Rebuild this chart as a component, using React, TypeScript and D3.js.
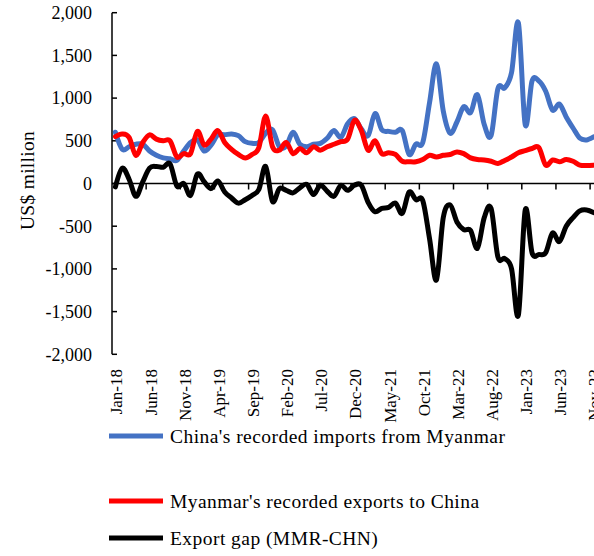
import React from "react";
import * as d3 from "d3";

// Monthly categories, Jan-18 .. Nov-23
const months: string[] = d3
  .timeMonths(new Date(2018, 0, 1), new Date(2023, 11, 1))
  .map((d) => d3.timeFormat("%b-%y")(d));

// China's recorded imports from Myanmar (US$ million)
const chinaImports: number[] = [
  600, 400, 430, 460, 460, 380, 330, 300, 290, 270,
  380, 480, 510, 380, 450, 570, 570, 580, 560, 490,
  470, 480, 590, 630, 430, 440, 600, 460, 430, 460,
  470, 530, 620, 540, 700, 760, 640, 560, 820, 630,
  610, 600, 620, 340, 460, 480, 950, 1400, 850, 590,
  720, 900, 830, 1040, 690, 560, 1110, 1120, 1300, 1880,
  690, 1200, 1200, 1080, 860, 930, 780, 650, 530, 510,
  545,
];

// Myanmar's recorded exports to China (US$ million)
const myanmarExports: number[] = [
  550, 580, 540, 330, 480, 570, 520, 500, 500, 310,
  350, 350, 610, 450, 520, 620, 480, 400, 340, 300,
  340, 420, 790, 430, 390, 480, 350, 410, 360, 430,
  390, 430, 460, 490, 520, 740, 620, 390, 500, 350,
  360, 340, 260, 255, 255, 280, 330, 310, 330, 340,
  370, 350, 300, 280, 275, 260, 235, 270, 310, 360,
  385, 410, 420, 215, 275, 255, 280, 260, 215, 210,
  215,
];

// Export gap (MMR-CHN)
const exportGap: number[] = [
  -40, 180, 50, -150, 20, 180, 200, 190, 230, -30,
  0, -140, 110, 20, -60, 30, -100, -170, -230, -190,
  -140, -70, 200, -210, -60, -80, -110, -50, -10, -130,
  -20, -90, -150, -20, -80, -20, -20, -220, -330, -290,
  -280, -230, -350, -100, -190, -200, -650, -1130, -400, -250,
  -450, -540, -550, -760, -400, -290, -860, -880, -1000, -1540,
  -310, -810, -830, -810, -580, -680, -500, -400, -320, -310,
  -340,
];

const yTicks: number[] = [-2000, -1500, -1000, -500, 0, 500, 1000, 1500, 2000];
const seriesNames: string[] = [
  "China's recorded imports from Myanmar",
  "Myanmar's recorded exports to China",
  "Export gap (MMR-CHN)",
];
const seriesColors: string[] = ["#4472C4", "#FF0000", "#000000"];

const W = 594;
const H = 556;
const FONT = "'Liberation Serif', 'Times New Roman', serif";

// thousands separator with a plain hyphen for negatives
const fmt = d3.formatLocale({
  decimal: ".",
  thousands: ",",
  grouping: [3],
  currency: ["$", ""],
  minus: "-",
}).format(",");

export default function App() {
  const x0 = 112;
  const step = 6.83;
  const x = d3
    .scaleBand<string>()
    .domain(months)
    .range([x0, x0 + step * months.length])
    .padding(0);
  const y = d3.scaleLinear().domain([-2000, 2000]).range([354.3, 12.7]);
  const cx = (i: number) => (x(months[i]) as number) + x.bandwidth() / 2;

  const line = d3
    .line<number>()
    .x((_, i) => cx(i))
    .y((v) => y(v))
    .curve(d3.curveCardinal.tension(0));

  const series = [chinaImports, myanmarExports, exportGap];
  const labelIdx = months.map((_, i) => i).filter((i) => i % 5 === 0);
  const legendY = [436, 501, 538];

  return (
    <div style={{ position: "absolute", left: 0, top: 0 }}>
      <svg width={W} height={H} style={{ display: "block", background: "#fff" }}>
        <rect width={W} height={H} fill="#fff" />
        {/* y axis */}
        <line x1={x0} x2={x0} y1={y(2000)} y2={y(-2000)} stroke="#000" strokeWidth={1.5} />
        {yTicks.map((t) => (
          <g key={t}>
            <line x1={x0} x2={x0 + 5} y1={y(t)} y2={y(t)} stroke="#000" strokeWidth={1.5} />
            <text
              x={92}
              y={y(t)}
              dy="0.35em"
              textAnchor="end"
              fontFamily={FONT}
              fontSize={18}
              fill="#000"
            >
              {fmt(t)}
            </text>
          </g>
        ))}
        <text
          transform={`translate(27,${y(0) - 3}) rotate(-90)`}
          textAnchor="middle"
          dy="0.35em"
          fontFamily={FONT}
          fontSize={19.5}
          letterSpacing={0.3}
          fill="#000"
        >
          US$ million
        </text>

        {/* x axis on zero line */}
        <line x1={x0} x2={x0 + step * months.length} y1={y(0)} y2={y(0)} stroke="#000" strokeWidth={1.5} />
        {labelIdx.map((i) => (
          <g key={months[i]}>
            {i > 0 && (
              <line
                x1={x(months[i]) as number}
                x2={x(months[i]) as number}
                y1={y(0)}
                y2={y(0) + 6}
                stroke="#000"
                strokeWidth={1.5}
              />
            )}
            <text
              transform={`translate(${cx(i) + 1},369) rotate(-90)`}
              textAnchor="end"
              dy="0.35em"
              fontFamily={FONT}
              fontSize={17}
              fill="#000"
            >
              {months[i]}
            </text>
          </g>
        ))}

        {/* series */}
        {series.map((s, k) => (
          <path
            key={k}
            d={line(s) as string}
            fill="none"
            stroke={seriesColors[k]}
            strokeWidth={5}
            strokeLinejoin="round"
            strokeLinecap="round"
          />
        ))}

        {/* legend */}
        {seriesNames.map((n, k) => (
          <g key={n}>
            <line
              x1={109}
              x2={163}
              y1={legendY[k]}
              y2={legendY[k]}
              stroke={seriesColors[k]}
              strokeWidth={5}
            />
            <text
              x={170}
              y={legendY[k]}
              dy="0.35em"
              fontFamily={FONT}
              fontSize={19.5}
              letterSpacing={0.45}
              fill="#000"
            >
              {n}
            </text>
          </g>
        ))}
      </svg>
    </div>
  );
}
